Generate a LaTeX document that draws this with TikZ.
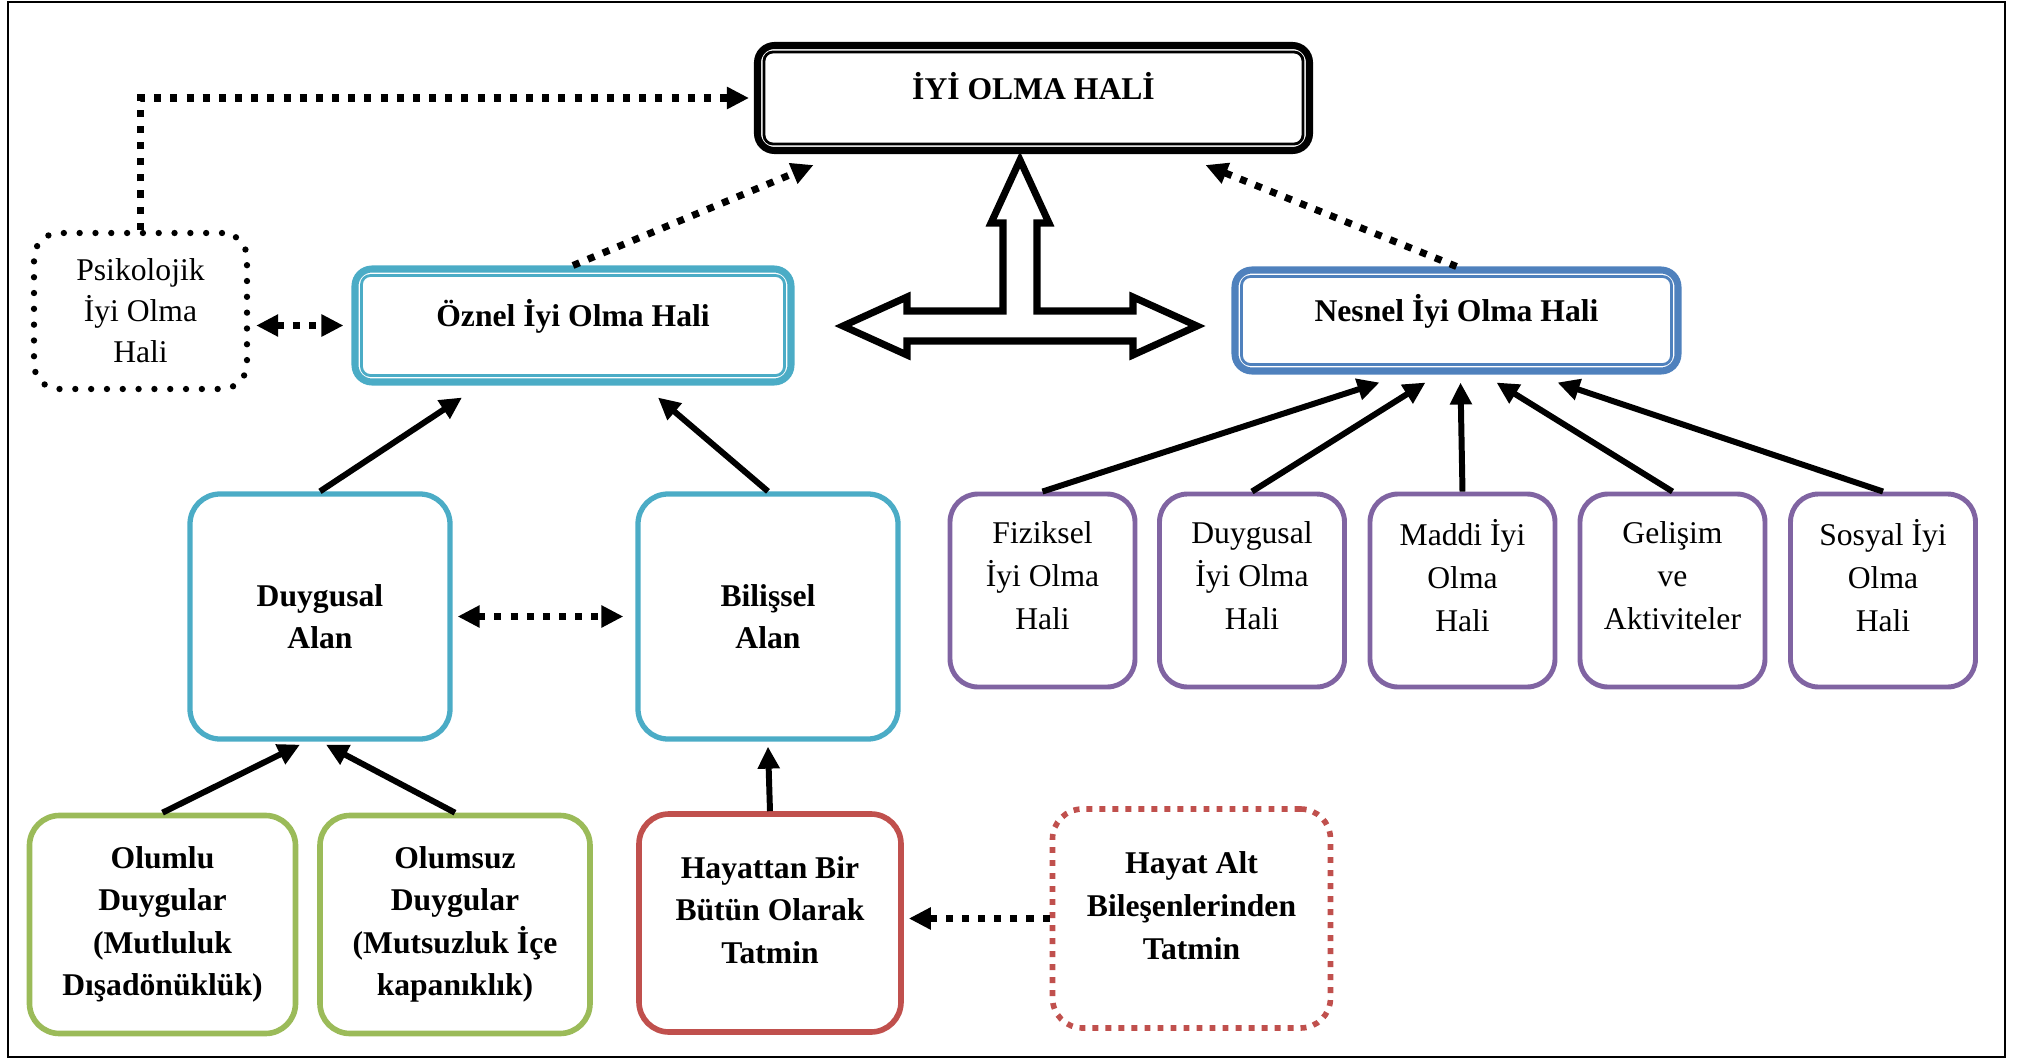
\documentclass[tikz,border=0pt]{standalone}
\usepackage{fontspec}
\setmainfont{Liberation Serif}
\usepackage{tikz}
\usetikzlibrary{calc,shapes,arrows.meta}
\definecolor{aqualine}{RGB}{75,172,198}
\definecolor{blueline}{RGB}{79,129,189}
\definecolor{purpleline}{RGB}{128,100,162}
\definecolor{greenline}{RGB}{155,187,89}
\definecolor{redline}{RGB}{192,80,77}
\newcommand{\tikzInnerFrame}[2]{
  \draw[#2,line width=0.8pt,rounded corners=0.09cm] ($(#1.north west)+(0.1,-0.1)$) rectangle ($(#1.south east)+(-0.1,0.1)$);
}
\tikzset{
  mainbox/.style={draw,rectangle,rounded corners=0.17cm,line width=2pt,fill=white,align=center,font=\fontsize{9}{12}\selectfont\bfseries,text depth=0.25cm},
  dotbox/.style={draw,rectangle,rounded corners=0.25cm,line width=1.8pt,line cap=round,dash pattern=on 0pt off 4.5pt,align=center,font=\fontsize{9}{11.7}\selectfont,minimum width=2.13cm,minimum height=1.56cm},
  areabox/.style={draw=aqualine,rectangle,rounded corners=0.3cm,line width=1.5pt,align=center,font=\fontsize{9}{12}\selectfont\bfseries,minimum width=2.6cm,minimum height=2.45cm},
  itembox/.style={draw=purpleline,rectangle,rounded corners=0.28cm,line width=1.4pt,align=center,font=\fontsize{9}{12.2}\selectfont,minimum width=1.85cm,minimum height=1.93cm,inner sep=0pt,text depth=0.3cm},
  footbox/.style={draw,rectangle,rounded corners=0.3cm,line width=1.6pt,align=center,font=\fontsize{9}{12.1}\selectfont\bfseries,minimum height=2.18cm},
  solidarrow/.style={line width=1.7pt,->},
  dotarrow/.style={line width=2pt,dash pattern=on 2pt off 2.6pt,->},
  bigarrow/.style={line width=2pt,line join=miter,fill=white}
}

\begin{document}
\begin{tikzpicture}[>={Triangle[length=0.22cm,width=0.21cm]}]
  \useasboundingbox (0,0) rectangle (20.31,-10.59);
  \draw[line width=0.8pt] (0.08,-0.02) rectangle (20.05,-10.57);

  \node[mainbox,minimum width=5.52cm,minimum height=1.05cm] (iyi) at (10.335,-0.98) {İYİ OLMA HALİ};
  \tikzInnerFrame{iyi}{black}

  \node[mainbox,draw=aqualine,minimum width=4.36cm,minimum height=1.13cm] (oznel) at (5.73,-3.255) {Öznel İyi Olma Hali};
  \tikzInnerFrame{oznel}{aqualine}

  \node[mainbox,draw=blueline,minimum width=4.43cm,minimum height=1.01cm] (nesnel) at (14.565,-3.205) {Nesnel İyi Olma Hali};
  \tikzInnerFrame{nesnel}{blueline}

  \node[dotbox] (psiko) at (1.405,-3.11) {Psikolojik\\İyi Olma\\Hali};

  % oznel side
  \node[areabox] (duyalan) at (3.20,-6.165) {Duygusal\\Alan};
  \node[areabox] (bilalan) at (7.68,-6.165) {Bilişsel\\Alan};

  \node[footbox,draw=greenline,minimum width=2.66cm] (olumlu) at (1.625,-9.245) {Olumlu\\Duygular\\(Mutluluk\\Dışadönüklük)};
  \node[footbox,draw=greenline,minimum width=2.70cm] (olumsuz) at (4.55,-9.245) {Olumsuz\\Duygular\\(Mutsuzluk İçe\\kapanıklık)};
  \node[footbox,draw=redline,minimum width=2.62cm,text depth=0.26cm] (hayattan) at (7.70,-9.23) {Hayattan Bir\\Bütün Olarak\\Tatmin};
  \node[footbox,draw=redline,dash pattern=on 1.7pt off 2pt,minimum width=2.78cm,minimum height=2.19cm,text depth=0.26cm] (hayatalt) at (11.915,-9.185) {Hayat Alt\\Bileşenlerinden\\Tatmin};

  % nesnel side
  \node[itembox] (fiziksel) at (10.425,-5.905) {Fiziksel\\İyi Olma\\Hali};
  \node[itembox] (duyiyi) at (12.52,-5.905) {Duygusal\\İyi Olma\\Hali};
  \node[itembox] (maddi) at (14.625,-5.905) {Maddi İyi\\Olma\\Hali};
  \node[itembox] (gelisim) at (16.725,-5.905) {Gelişim\\ve\\Aktiviteler};
  \node[itembox] (sosyal) at (18.83,-5.905) {Sosyal İyi\\Olma\\Hali};

  % hollow arrow between the two sides
  \coordinate (hub) at (10.20,-3.26);
  \draw[bigarrow,shift={(hub)}] (-1.77,0) -- (-1.13,0.29) -- (-1.13,0.15) -- (-0.17,0.15) -- (-0.17,1.03)
    -- (-0.29,1.03) -- (0,1.66) -- (0.29,1.03) -- (0.17,1.03) -- (0.17,0.15) -- (1.13,0.15) -- (1.13,0.29)
    -- (1.77,0) -- (1.13,-0.29) -- (1.13,-0.15) -- (-1.13,-0.15) -- (-1.13,-0.29) -- cycle;

  \draw[dotarrow] (psiko.north) |- ($(iyi.west)+(-0.05,0)$);
  \draw[dotarrow,<->,shorten <=0.06cm,shorten >=0.08cm] (oznel.west -| psiko.east) -- (oznel.west);
  \draw[dotarrow] (oznel.north) -- ($(iyi.south)+(-2.2,-0.11)$);
  \draw[dotarrow] (nesnel.north) -- ($(iyi.south)+(1.72,-0.11)$);
  \draw[dotarrow,<->,shorten <=0.05cm,shorten >=0.12cm] (duyalan.east) -- (bilalan.west);
  \draw[dotarrow,shorten >=0.05cm] (hayatalt.west) -- (hayattan.east |- hayatalt.west);

  \draw[solidarrow] (duyalan.north) -- ($(oznel.south)+(-1.11,-0.12)$);
  \draw[solidarrow] (bilalan.north) -- ($(oznel.south)+(0.85,-0.12)$);
  \draw[solidarrow] (olumlu.north) -- ($(duyalan.south)+(-0.20,-0.03)$);
  \draw[solidarrow] (olumsuz.north) -- ($(duyalan.south)+(0.06,-0.03)$);
  \draw[solidarrow] (hayattan.north) -- ($(bilalan.south)+(0,-0.05)$);

  \draw[solidarrow] (fiziksel.north) -- ($(nesnel.south)+(-0.77,-0.08)$);
  \draw[solidarrow] (duyiyi.north) -- ($(nesnel.south)+(-0.31,-0.08)$);
  \draw[solidarrow] (maddi.north) -- ($(nesnel.south)+(0.04,-0.08)$);
  \draw[solidarrow] (gelisim.north) -- ($(nesnel.south)+(0.40,-0.08)$);
  \draw[solidarrow] (sosyal.north) -- ($(nesnel.south)+(1.01,-0.08)$);
\end{tikzpicture}
\end{document}
